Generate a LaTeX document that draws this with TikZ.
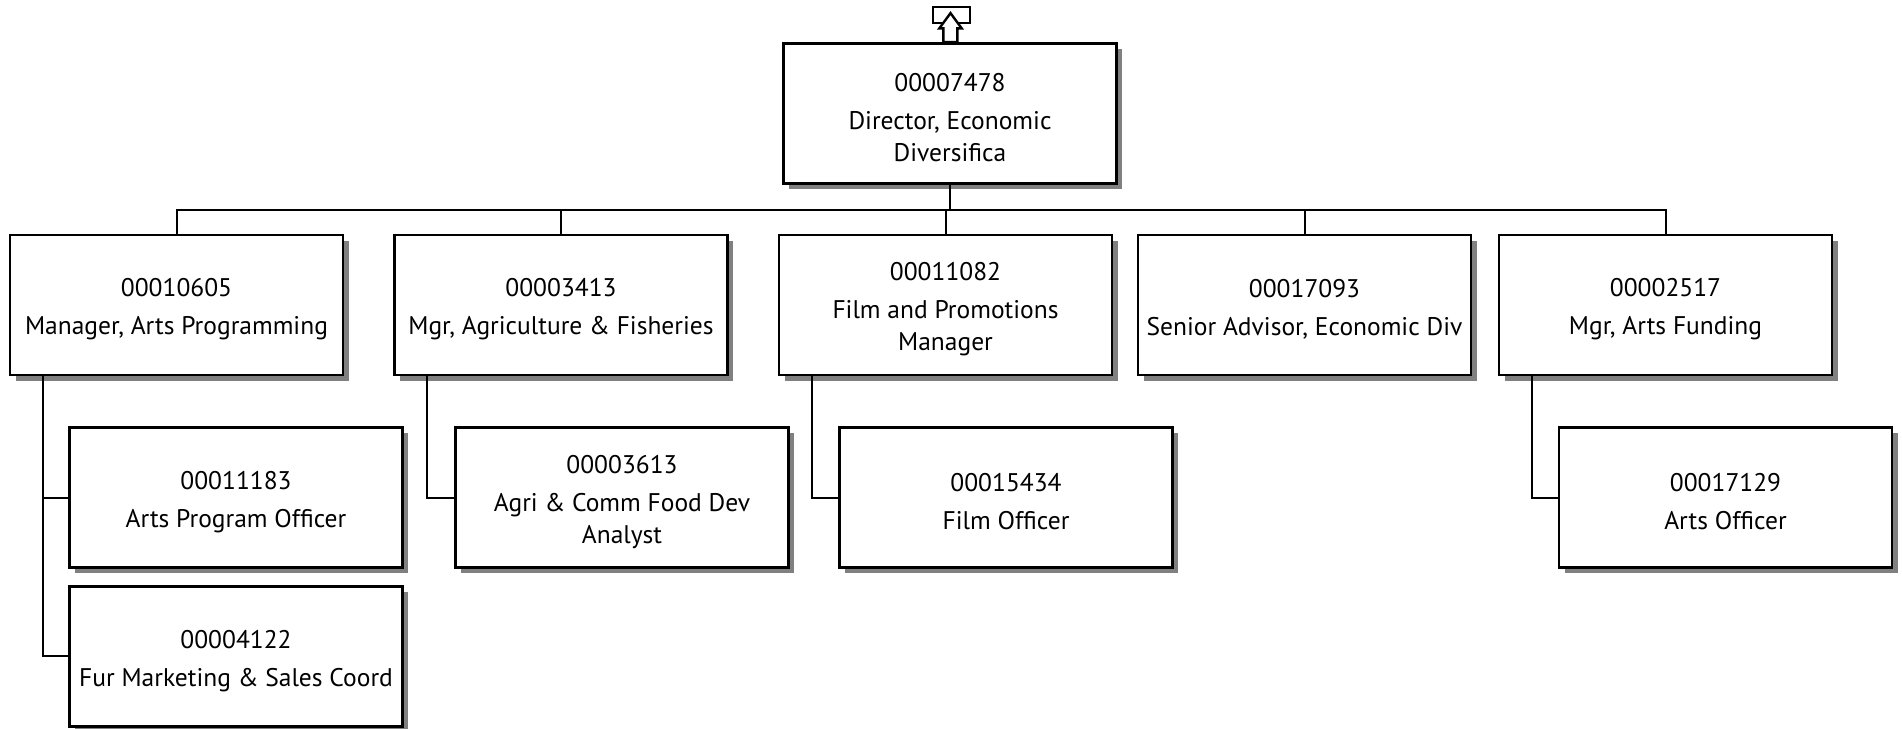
\documentclass[tikz,border=0pt]{standalone}
\usepackage{fontspec}
\setmainfont{PT Sans}
\usetikzlibrary{shadows,calc}
\definecolor{shadowgray}{HTML}{808080}
\newcommand{\topstrut}{\rule{0pt}{27pt}}
\tikzset{
  box/.style={draw=black, line width=2.4pt, fill=white, inner sep=0pt,
    minimum width=333pt, minimum height=140pt, align=center,
    font=\fontsize{25.5pt}{32pt}\selectfont,
    drop shadow={shadow xshift=5.5pt, shadow yshift=-5.5pt, fill=shadowgray, opacity=1}},
  link/.style={draw=black, line width=2pt},
}
\begin{document}
\begin{tikzpicture}[x=1pt,y=-1pt]
\useasboundingbox (0,0) rectangle (1902,728);
\coordinate (bus) at (0,210);
% nodes
\node[box] (top) at (950,113.3) {\topstrut 00007478\\[6pt]Director, Economic\\Diversifica};
\node[box] (b1) at (176.5,305) {\topstrut 00010605\\[6pt]Manager, Arts Programming};
\node[box] (b2) at (561,305) {\topstrut 00003413\\[6pt]Mgr, Agriculture \& Fisheries};
\node[box] (b3) at (945.5,305) {\topstrut 00011082\\[6pt]Film and Promotions\\Manager};
\node[box] (b4) at (1304.5,305) {\topstrut 00017093\\[6pt]Senior Advisor, Economic Div};
\node[box] (b5) at (1665.5,305) {\topstrut 00002517\\[6pt]Mgr, Arts Funding};
\node[box] (c1a) at (236,497.5) {\topstrut 00011183\\[6pt]Arts Program Officer};
\node[box] (c1b) at (236,656.3) {\topstrut 00004122\\[6pt]Fur Marketing \& Sales Coord};
\node[box] (c2) at (622,497.5) {\topstrut 00003613\\[6pt]Agri \& Comm Food Dev\\Analyst};
\node[box] (c3) at (1006,497.5) {\topstrut 00015434\\[6pt]Film Officer};
\node[box] (c5) at (1725.5,497.5) {\topstrut 00017129\\[6pt]Arts Officer};
% bus
\draw[link] (top.south) -- (top.south |- bus);
\draw[link] (b1.north) -- (b1.north |- bus) -- (b5.north |- bus) -- (b5.north);
\foreach \n in {b2,b3,b4} \draw[link] (\n.north) -- (\n.north |- bus);
% children
\draw[link] ($(b1.south west)+(34,0)$) |- (c1a.west);
\draw[link] ($(b1.south west)+(34,0)$) |- (c1b.west);
\draw[link] ($(b2.south west)+(34,0)$) |- (c2.west);
\draw[link] ($(b3.south west)+(34,0)$) |- (c3.west);
\draw[link] ($(b5.south west)+(34,0)$) |- (c5.west);
% up arrow marker
\node[draw=black, line width=2.4pt, inner sep=0pt, minimum width=37pt, minimum height=16pt] (upbox) at (951.3,14.7) {};
\filldraw[fill=white, draw=black, line width=2.4pt, line join=miter]
  ($(top.north)+(0.5,-29)$) -- ++(11.2,15.3) -- ++(-4.4,0) -- ($(top.north)+(7.3,0)$)
  -- ($(top.north)+(-6.7,0)$) -- ++(0,-13.7) -- ++(-4,0) -- cycle;
\end{tikzpicture}
\end{document}
